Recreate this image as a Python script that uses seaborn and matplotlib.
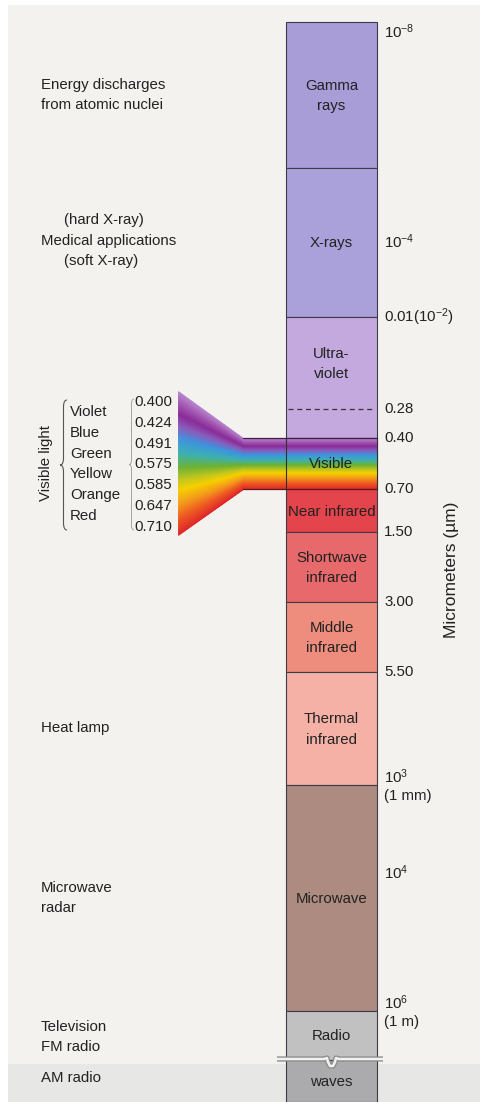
import matplotlib.pyplot as plt
import seaborn as sns
from matplotlib.colors import LinearSegmentedColormap
from matplotlib.path import Path
from matplotlib.patches import PathPatch, Rectangle

# spectrum column, in diagram units (0 = top of picture)
band_names = ["Gamma\nrays", "X-rays", "Ultra-\nviolet", "Visible", "Near infrared",
              "Shortwave\ninfrared", "Middle\ninfrared", "Thermal\ninfrared",
              "Microwave", "Radio", "waves"]
band_top = [22, 168, 317, 438, 489, 532, 602, 672, 785, 1011, 1060]
band_bottom = [168, 317, 438, 489, 532, 602, 672, 785, 1011, 1060, 1102]
band_colors = ["#a99dd7", "#aaa1db", "#c4a9de", "none", "#e4444c", "#e8696b",
               "#ee8d7d", "#f6b1a7", "#ae8b81", "#c1c1c1", "#ababad"]
uv_split = 409  # 0.28 dashed line

scale_pos = [32, 242, 317, 409, 438, 489, 532, 602, 672, 785, 873, 1011]
scale_labels = ["10$^{-8}$", "10$^{-4}$", "0.01(10$^{-2}$)", "0.28", "0.40", "0.70",
                "1.50", "3.00", "5.50", "10$^{3}$\n(1 mm)", "10$^{4}$", "10$^{6}$\n(1 m)"]

uses = ["Energy discharges\nfrom atomic nuclei", "Medical applications", "Heat lamp",
        "Microwave\nradar", "Television\nFM radio", "AM radio"]
uses_pos = [95, 241, 728, 898, 1037, 1078]
xray_notes = ["(hard X-ray)", "(soft X-ray)"]
xray_notes_pos = [220, 261]

vis_colors = ["Violet", "Blue", "Green", "Yellow", "Orange", "Red"]
vis_wavelengths = ["0.400", "0.424", "0.491", "0.575", "0.585", "0.647", "0.710"]

rainbow = LinearSegmentedColormap.from_list("visible", [
    (0.00, "#b98ad0"), (0.08, "#a458b4"), (0.16, "#8a2c98"), (0.24, "#8a5cbc"),
    (0.33, "#3e94de"), (0.43, "#3cb0b4"), (0.53, "#6cb234"), (0.62, "#c4c61e"),
    (0.69, "#f6d000"), (0.79, "#f49a1c"), (0.89, "#ee5a22"), (1.00, "#e02a2a")])


def brace(ax, x, y0, y1, w, color, lw):
    ym = (y0 + y1) / 2
    r = w
    xm = x - w / 2
    verts = [(x, y0), (xm, y0), (xm, y0 + r), (xm, ym - r), (xm, ym), (x - w, ym),
             (xm, ym), (xm, ym + r), (xm, y1 - r), (xm, y1), (x, y1)]
    codes = [Path.MOVETO, Path.CURVE3, Path.CURVE3, Path.LINETO, Path.CURVE3, Path.CURVE3,
             Path.CURVE3, Path.CURVE3, Path.LINETO, Path.CURVE3, Path.CURVE3]
    ax.add_patch(PathPatch(Path(verts, codes), fill=False, edgecolor=color, lw=lw, zorder=5))


sns.set_theme(style="white")
plt.rcParams["font.family"] = ["Liberation Sans", "DejaVu Sans"]
plt.rcParams["mathtext.fontset"] = "custom"
plt.rcParams["mathtext.rm"] = "Liberation Sans"
plt.rcParams["mathtext.it"] = "Liberation Sans:italic"

fig = plt.figure(figsize=(4.81, 11.02), dpi=100, facecolor="white")
ax = fig.add_axes([0, 0, 1, 1])
ax.set_xlim(0, 481)
ax.set_ylim(1102, 0)
ax.axis("off")

ax.add_patch(Rectangle((8, 5), 473, 1097, facecolor="#f3f2ee", edgecolor="none", zorder=0))
ax.add_patch(Rectangle((8, 1064), 473, 38, facecolor="#e7e7e5", edgecolor="none", zorder=0))

txt = dict(color="#222222", fontsize=10.8)

# column of bands
heights = [b - t for t, b in zip(band_top, band_bottom)]
ax.bar(331.5, heights, bottom=band_top, width=91, color=band_colors,
       edgecolor="#3c3c48", linewidth=0.8, zorder=2)

# visible light fan
fan_x = [178, 243, 377]
fan_top = [391, 438, 438]
fan_bot = [535, 489, 489]
n = 160
for i in range(n):
    t0, t1 = i / n, (i + 1) / n
    y0 = [a + t0 * (b - a) for a, b in zip(fan_top, fan_bot)]
    y1 = [a + t1 * (b - a) for a, b in zip(fan_top, fan_bot)]
    c = rainbow((t0 + t1) / 2)
    ax.fill_between(fan_x, y0, y1, color=c, edgecolor=c, linewidth=0.5, zorder=3)
ax.plot([243, 377], [438, 438], color="#3c2040", lw=0.9, zorder=4)
ax.plot([243, 377], [489, 489], color="#5a1818", lw=0.9, zorder=4)
ax.plot([286, 286], [438, 489], color="#303030", lw=0.8, zorder=4)
ax.plot([377, 377], [438, 489], color="#303030", lw=0.8, zorder=4)

ax.plot([288, 372], [uv_split, uv_split], color="#333333", lw=0.9, ls=(0, (4, 3)), zorder=4)

# radio break
bx = [277, 324, 327, 328, 330, 333, 335, 336, 339, 383]
by = [1059, 1059, 1058, 1062, 1066, 1066, 1062, 1058, 1059, 1059]
ax.plot(bx, by, color="#8e8e8e", lw=3.8, zorder=4, solid_capstyle="butt")
ax.plot(bx, by, color="#f2f2f2", lw=1.8, zorder=5, solid_capstyle="butt")

# band labels
for name, t, b in zip(band_names, band_top, band_bottom):
    if name == "Ultra-\nviolet":
        b = uv_split
    y = (t + b) / 2 + 1
    ax.text(331.5, y, name, ha="center", va="center", linespacing=1.55, zorder=6, **txt)

# scale on the right
for pos, lab in zip(scale_pos, scale_labels):
    ax.text(384, pos, lab, ha="left", va="center", linespacing=1.3, zorder=6, **txt)
ax.text(452, 570, "Micrometers (\u00b5m)", rotation=90, ha="center", va="center",
        color="#222222", fontsize=12.5)

# uses on the left
for lab, pos in zip(uses, uses_pos):
    ax.text(41, pos, lab, ha="left", va="center", linespacing=1.55, **txt)
for lab, pos in zip(xray_notes, xray_notes_pos):
    ax.text(64, pos, lab, ha="left", va="center", **txt)

# visible light legend
ax.text(46, 463, "Visible light", rotation=90, ha="center", va="center", **txt)
brace(ax, 67, 400, 530, 7, "#555555", 0.8)
brace(ax, 134, 399, 530, 5, "#999999", 0.6)
for i, lab in enumerate(vis_colors):
    ax.text(70, 412 + i * 20.8, lab, ha="left", va="center", **txt)
for i, lab in enumerate(vis_wavelengths):
    ax.text(134, 402 + i * 20.8, lab, ha="left", va="center", **txt)

plt.savefig("out.png", dpi=100, facecolor="white")
plt.close()
